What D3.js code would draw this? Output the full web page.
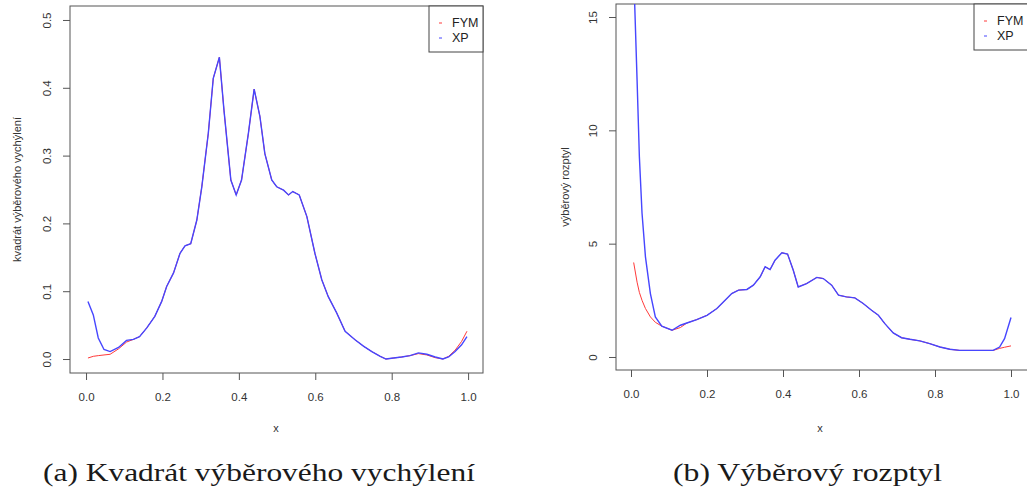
<!DOCTYPE html>
<html>
<head>
<meta charset="utf-8">
<script src="https://cdn.jsdelivr.net/npm/d3@7"></script>
<style>
  html, body { margin: 0; padding: 0; background: #fff; }
  svg { display: block; }
</style>
</head>
<body>
<script>
// (a) squared bias
const biasX = [0.005,0.019,0.032,0.047,0.063,0.085,0.106,0.124,0.14,0.159,0.18,0.198,0.211,0.229,0.246,0.259,0.274,0.29,0.303,0.32,0.333,0.349,0.361,0.379,0.393,0.407,0.425,0.44,0.455,0.468,0.486,0.499,0.517,0.53,0.541,0.558,0.578,0.599,0.617,0.634,0.656,0.678,0.704,0.726,0.748,0.77,0.785,0.805,0.826,0.848,0.87,0.892,0.914,0.934,0.949,0.966,0.983,0.997];
const biasXP = [0.085,0.065,0.031,0.014,0.011,0.017,0.0275,0.029,0.033,0.046,0.063,0.085,0.107,0.127,0.156,0.167,0.170,0.205,0.254,0.333,0.414,0.445,0.367,0.264,0.242,0.264,0.333,0.398,0.358,0.303,0.264,0.254,0.249,0.242,0.247,0.242,0.21,0.156,0.117,0.092,0.068,0.041,0.0285,0.019,0.011,0.004,0.0,0.0015,0.003,0.005,0.009,0.007,0.003,0.0,0.003,0.011,0.021,0.033];
const biasFYM = [0.0015,0.004,0.005,0.006,0.007,0.015,0.025,0.029,0.033,0.046,0.063,0.085,0.107,0.127,0.156,0.167,0.170,0.205,0.254,0.333,0.414,0.445,0.367,0.264,0.242,0.264,0.333,0.398,0.358,0.303,0.264,0.254,0.249,0.242,0.247,0.242,0.21,0.156,0.117,0.092,0.068,0.041,0.0285,0.019,0.011,0.004,0.0,0.0015,0.003,0.005,0.008,0.006,0.002,0.0,0.004,0.013,0.026,0.041];

// (b) variance
const varX = [0.007,0.016,0.022,0.029,0.038,0.051,0.064,0.081,0.108,0.13,0.147,0.173,0.2,0.226,0.243,0.265,0.283,0.305,0.322,0.34,0.353,0.366,0.379,0.397,0.412,0.427,0.44,0.462,0.489,0.506,0.528,0.546,0.567,0.589,0.611,0.633,0.651,0.668,0.69,0.712,0.734,0.76,0.786,0.813,0.839,0.865,0.9,0.931,0.953,0.97,0.983,1.0];
const varXP = [17,12.2,8.84,6.34,4.42,2.8,1.77,1.36,1.18,1.4,1.5,1.65,1.84,2.14,2.43,2.8,2.95,2.98,3.17,3.54,3.98,3.86,4.27,4.6,4.54,3.83,3.09,3.24,3.51,3.46,3.17,2.73,2.65,2.61,2.36,2.06,1.84,1.47,1.06,0.85,0.78,0.71,0.59,0.44,0.34,0.29,0.29,0.29,0.29,0.44,0.81,1.74];
const varFYM = [4.17,3.3,2.85,2.5,2.14,1.77,1.53,1.36,1.18,1.3,1.5,1.65,1.84,2.14,2.43,2.8,2.95,2.98,3.17,3.54,3.98,3.86,4.27,4.6,4.54,3.83,3.09,3.24,3.51,3.46,3.17,2.73,2.65,2.61,2.36,2.06,1.84,1.47,1.06,0.85,0.78,0.71,0.59,0.44,0.34,0.29,0.29,0.29,0.29,0.38,0.43,0.49];

const xTicks = [0, 0.2, 0.4, 0.6, 0.8, 1.0];
const biasTicks = [0, 0.1, 0.2, 0.3, 0.4, 0.5];
const varTicks = [0, 5, 10, 15];
const seriesNames = ['FYM', 'XP'];
const seriesColors = ['#ff3a3a', '#4646ff'];
const seriesWidths = [1, 1.4];

const width = 1027, height = 490;
const svg = d3.select('body').append('svg')
    .attr('width', width)
    .attr('height', height)
    .attr('viewBox', [0, 0, width, height]);

const sans = 'Liberation Sans, Arial, sans-serif';

function panel({ id, left, right, top, bottom, xDomain, yDomain, yTicks, yFormat, x, ys, yLabel, yLabelX, xLabelX, caption, captionX, captionW }) {
    const xScale = d3.scaleLinear(xDomain, [left, right]);
    const yScale = d3.scaleLinear(yDomain, [bottom, top]);

    svg.append('clipPath').attr('id', id)
        .append('rect')
        .attr('x', left).attr('y', top)
        .attr('width', right - left).attr('height', bottom - top);

    // x axis
    svg.append('g')
        .attr('transform', `translate(0,${bottom})`)
        .call(d3.axisBottom(xScale).tickValues(xTicks).tickFormat(d3.format('.1f')).tickSize(7))
        .call(g => g.select('.domain').remove())
        .call(g => g.selectAll('.tick line').attr('stroke', '#555'))
        .call(g => g.selectAll('.tick text')
            .attr('fill', '#333').attr('font-family', sans).attr('font-size', 11.5)
            .attr('y', 24).attr('dy', '0.35em'));

    // y axis, labels rotated like base R
    svg.append('g')
        .attr('transform', `translate(${left},0)`)
        .call(d3.axisLeft(yScale).tickValues(yTicks).tickFormat(yFormat).tickSize(7))
        .call(g => g.select('.domain').remove())
        .call(g => g.selectAll('.tick line').attr('stroke', '#555'))
        .call(g => g.selectAll('.tick text')
            .attr('fill', '#333').attr('font-family', sans).attr('font-size', 11.5)
            .attr('text-anchor', 'middle')
            .attr('transform', 'rotate(-90)')
            .attr('x', 0).attr('y', -23).attr('dy', '0.35em'));

    // box
    svg.append('rect')
        .attr('x', left).attr('y', top)
        .attr('width', right - left).attr('height', bottom - top)
        .attr('fill', 'none').attr('stroke', '#555').attr('stroke-width', 1);

    const line = d3.line()
        .x((d, i) => xScale(x[i]))
        .y(d => yScale(d));

    ys.forEach((vals, k) => {
        svg.append('path')
            .datum(vals)
            .attr('clip-path', `url(#${id})`)
            .attr('fill', 'none')
            .attr('stroke', seriesColors[k])
            .attr('stroke-width', seriesWidths[k])
            .attr('d', line);
    });

    // legend (topright)
    const lw = 54, lh = 46;
    svg.append('rect')
        .attr('x', right - lw).attr('y', top)
        .attr('width', lw).attr('height', lh)
        .attr('fill', '#fff').attr('stroke', '#444').attr('stroke-width', 1);
    seriesNames.forEach((name, k) => {
        const cy = top + 17 + k * 15;
        svg.append('line')
            .attr('x1', right - lw + 10).attr('x2', right - lw + 13)
            .attr('y1', cy).attr('y2', cy)
            .attr('stroke', seriesColors[k]).attr('stroke-width', 1);
        svg.append('text')
            .attr('x', right - lw + 23).attr('y', cy).attr('dy', '0.35em')
            .attr('font-family', sans).attr('font-size', 12.5).attr('fill', '#222')
            .text(name);
    });

    // axis titles
    svg.append('text')
        .attr('x', xLabelX).attr('y', 428).attr('dy', '0.35em')
        .attr('text-anchor', 'middle')
        .attr('font-family', sans).attr('font-size', 11).attr('fill', '#333')
        .text('x');
    svg.append('text')
        .attr('transform', `translate(${yLabelX},${(top + bottom) / 2}) rotate(-90)`)
        .attr('dy', '0.35em')
        .attr('text-anchor', 'middle')
        .attr('font-family', sans).attr('font-size', 11).attr('fill', '#333')
        .text(yLabel);

    // caption
    svg.append('text')
        .attr('x', captionX).attr('y', 481)
        .attr('font-family', 'Liberation Serif, DejaVu Serif, serif')
        .attr('font-size', 26).attr('fill', '#1a1a1a')
        .attr('textLength', captionW).attr('lengthAdjust', 'spacingAndGlyphs')
        .text(caption);
}

panel({
    id: 'clipA', left: 70, right: 483, top: 6, bottom: 373,
    xDomain: [-0.042, 1.039], yDomain: [-0.0206, 0.5206],
    yTicks: biasTicks, yFormat: d3.format('.1f'),
    x: biasX, ys: [biasFYM, biasXP],
    yLabel: 'kvadrát výběrového vychýlení', yLabelX: 17, xLabelX: 276,
    caption: '(a) Kvadrát výběrového vychýlení', captionX: 43, captionW: 432
});

panel({
    id: 'clipB', left: 616, right: 1028, top: 4, bottom: 370,
    xDomain: [-0.0395, 1.0447], yDomain: [-0.574, 15.574],
    yTicks: varTicks, yFormat: d3.format('d'),
    x: varX, ys: [varFYM, varXP],
    yLabel: 'výběrový rozptyl', yLabelX: 565, xLabelX: 820,
    caption: '(b) Výběrový rozptyl', captionX: 673, captionW: 269
});
</script>
</body>
</html>
